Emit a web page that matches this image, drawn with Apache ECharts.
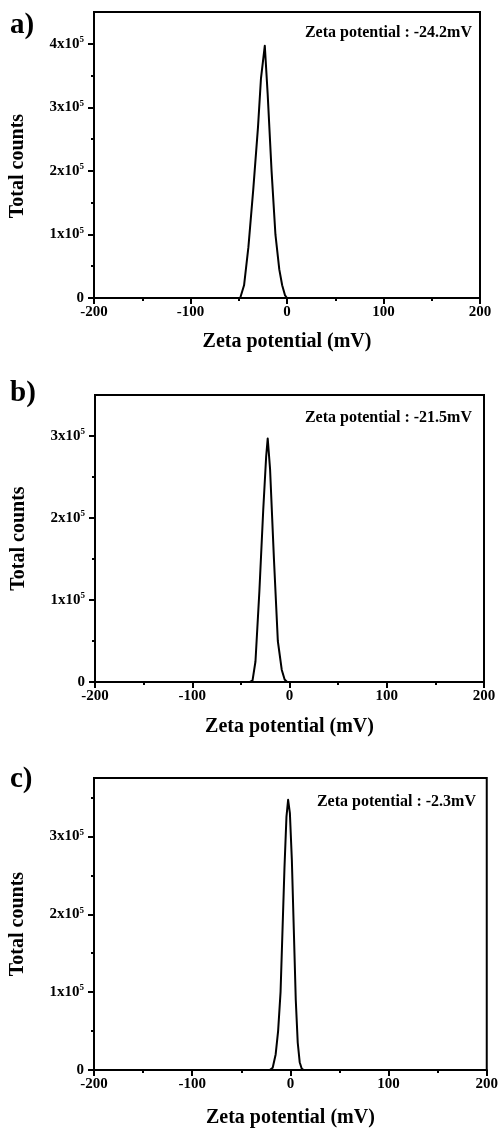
<!DOCTYPE html>
<html>
<head>
<meta charset="utf-8">
<script src="https://cdn.jsdelivr.net/npm/echarts@6/dist/echarts.min.js"></script>
<style>
  html, body { margin: 0; padding: 0; background: #fff; }
  #chart { width: 501px; height: 1129px; }
</style>
</head>
<body>
<div id="chart"></div>
<script>
// Zeta potential distributions (mV vs. total counts) for three samples
const zetaA   = [-48.5, -44.5, -40, -35, -30, -27, -23, -20, -16, -12, -8, -5, -2, 0];
const countsA = [0, 20000, 80000, 170000, 270000, 345000, 397000, 320000, 200000, 100000, 45000, 20000, 4000, 0];

const zetaB   = [-41, -38, -35, -31, -27, -24, -22.4, -20, -16, -12, -8, -5, -2.5];
const countsB = [0, 2000, 25000, 110000, 210000, 275000, 297000, 260000, 150000, 50000, 15000, 3000, 0];

const zetaC   = [-21, -18, -15, -12.5, -10, -8, -6, -4, -2.3, -0.5, 1.5, 3.5, 5.5, 7.5, 9.5, 11.5, 13.5];
const countsC = [0, 3000, 20000, 50000, 100000, 180000, 260000, 325000, 347000, 330000, 270000, 180000, 90000, 35000, 10000, 2000, 0];

const meanLabels = ['Zeta potential : -24.2mV', 'Zeta potential : -21.5mV', 'Zeta potential : -2.3mV'];
const panelLetters = ['a)', 'b)', 'c)'];

const xMajorTicks = [-200, -100, 0, 100, 200];
const yMaxes = [450000, 350000, 375000];
const yMajorTicks = [
  [0, 100000, 200000, 300000, 400000],
  [0, 100000, 200000, 300000],
  [0, 100000, 200000, 300000]
];
const yMinorTicks = [
  [50000, 150000, 250000, 350000],
  [50000, 150000, 250000],
  [50000, 150000, 250000, 350000]
];

const FONT = '"Liberation Serif", "Times New Roman", serif';

// plot rectangles for the three stacked panels
const panels = [
  { left: 94, top: 12,  width: 386, height: 286, nameGap: 34, yNamePad: [0, 22, 0, 0], letterY: 27,  noteX: 472, noteY: 33 },
  { left: 95, top: 395, width: 389, height: 287, nameGap: 35, yNamePad: [0, 0, 0, 0],  letterY: 395, noteX: 472, noteY: 418 },
  { left: 92, top: 778, width: 397, height: 294, nameGap: 38, yNamePad: [0, 0, 0, 0],  letterY: 781, noteX: 476, noteY: 802 }
];

const seriesData = [
  zetaA.map((z, i) => [z, countsA[i]]),
  zetaB.map((z, i) => [z, countsB[i]]),
  zetaC.map((z, i) => [z, countsC[i]])
];

function yLabel(v) {
  if (v === 0) return '{n|0}';
  return '{n|' + Math.round(v / 100000) + 'x10}{s|5}';
}

const black = '#000';
const grid = [], xAxis = [], yAxis = [], series = [], graphic = [];

panels.forEach((p, k) => {
  grid.push({
    left: p.left, top: p.top, width: p.width, height: p.height,
    show: true, borderColor: black, borderWidth: 2, backgroundColor: 'transparent'
  });

  xAxis.push({
    type: 'value', gridIndex: k, min: -200, max: 200, interval: 100,
    axisLine: { show: true, onZero: false, lineStyle: { color: black, width: 2 } },
    axisTick: { show: true, inside: false, length: 6, lineStyle: { color: black, width: 2 } },
    minorTick: { show: true, splitNumber: 2, length: 3, lineStyle: { color: black, width: 2 } },
    splitLine: { show: false },
    axisLabel: {
      margin: 7, color: black, fontFamily: FONT, fontWeight: 'bold', fontSize: 15,
      customValues: xMajorTicks
    },
    name: 'Zeta potential (mV)', nameLocation: 'middle', nameGap: p.nameGap,
    nameTextStyle: { color: black, fontFamily: FONT, fontWeight: 'bold', fontSize: 20 }
  });

  // labelled major ticks
  yAxis.push({
    type: 'value', gridIndex: k, min: 0, max: yMaxes[k],
    axisLine: { show: true, onZero: false, lineStyle: { color: black, width: 2 } },
    axisTick: { show: true, inside: false, length: 6, customValues: yMajorTicks[k], lineStyle: { color: black, width: 2 } },
    splitLine: { show: false },
    axisLabel: {
      margin: 10, customValues: yMajorTicks[k], formatter: yLabel,
      rich: {
        n: { color: black, fontFamily: FONT, fontWeight: 'bold', fontSize: 15 },
        s: { color: black, fontFamily: FONT, fontWeight: 'bold', fontSize: 9, verticalAlign: 'top', padding: [0, 0, 8, 0] }
      }
    },
    name: 'Total counts', nameLocation: 'middle', nameGap: 66, nameRotate: 90,
    nameTextStyle: { color: black, fontFamily: FONT, fontWeight: 'bold', fontSize: 20, padding: p.yNamePad }
  });

  // short minor ticks between the labelled ones
  yAxis.push({
    type: 'value', gridIndex: k, min: 0, max: yMaxes[k], position: 'left',
    axisLine: { show: false, onZero: false },
    axisTick: { show: true, inside: false, length: 3, customValues: yMinorTicks[k], lineStyle: { color: black, width: 2 } },
    axisLabel: { show: false },
    splitLine: { show: false }
  });

  series.push({
    type: 'line', xAxisIndex: k, yAxisIndex: 2 * k, data: seriesData[k],
    showSymbol: false, symbol: 'none', smooth: false,
    lineStyle: { color: black, width: 2, join: 'round' },
    silent: true, animation: false
  });

  graphic.push({
    type: 'text', left: 10, top: p.letterY - 16,
    style: { text: panelLetters[k], fill: black, font: 'bold 29px ' + FONT }
  });
  graphic.push({
    type: 'text', x: p.noteX, y: p.noteY,
    style: { text: meanLabels[k], fill: black, font: 'bold 16px ' + FONT, align: 'right', verticalAlign: 'middle' }
  });
});

const chart = echarts.init(document.getElementById('chart'), null, { renderer: 'canvas' });
chart.setOption({
  animation: false,
  backgroundColor: '#fff',
  grid, xAxis, yAxis, series, graphic
});
</script>
</body>
</html>
